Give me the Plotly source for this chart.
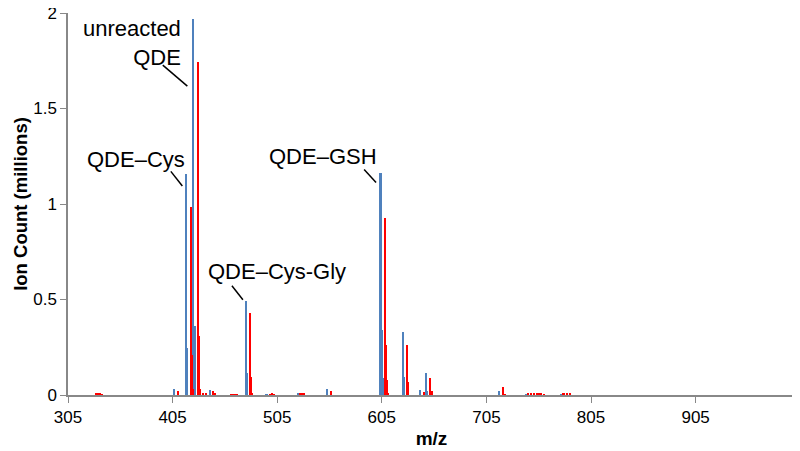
import plotly.graph_objects as go

# Series 1 (blue) : m/z and ion counts (millions)
blue_mz = [332, 406.5, 418.3, 419.3, 423.3, 425.0, 426.3, 440.6, 475.4, 476.4, 495,
           525, 552.6, 604.0, 605.0, 606.0, 625.7, 626.7, 641.6, 647.7, 648.8,
           717.5, 743, 777]
blue_val = [0.004, 0.03, 1.155, 0.245, 0.02, 1.968, 0.36, 0.026, 0.494, 0.115, 0.005,
            0.01, 0.032, 1.16, 0.34, 0.09, 0.332, 0.096, 0.026, 0.114, 0.02,
            0.022, 0.004, 0.004]

# Series 2 (red)
red_mz = [332.5, 334, 336, 338, 410.7, 422.5, 423.5, 424.6, 429.4, 430.6, 431.7, 434,
          437.5, 443.8, 446, 461, 463, 465, 467, 479.2, 480.3, 481.3, 498, 500, 502,
          527, 529, 531, 557, 607.9, 609.0, 610.0, 611.0, 629.5, 630.6, 645.5,
          651.6, 652.7, 721.4, 722.5, 745, 748, 751, 754, 757, 760, 779, 782, 785]
red_val = [0.006, 0.006, 0.006, 0.005, 0.023, 0.985, 0.21, 0.03, 1.741, 0.31, 0.03, 0.01,
           0.012, 0.02, 0.006, 0.005, 0.005, 0.005, 0.005, 0.429, 0.096, 0.01, 0.005, 0.006, 0.005,
           0.008, 0.01, 0.006, 0.021, 0.927, 0.262, 0.08, 0.01, 0.262, 0.07, 0.017,
           0.09, 0.02, 0.04, 0.005, 0.006, 0.006, 0.008, 0.006, 0.006, 0.005, 0.006, 0.007, 0.006]

x_ticks = [305, 405, 505, 605, 705, 805, 905]
y_ticks = [0, 0.5, 1, 1.5, 2]
y_tick_text = ["0", "0.5", "1", "1.5", "2"]

# labels: (text, x, y, xanchor, align)
labels = [
    ("unreacted<br>QDE", 414.7, 1.843, "right", "right"),
    ("QDE\u2013Cys", 418.6, 1.234, "right", "right"),
    ("QDE\u2013GSH", 548.5, 1.249, "center", "center"),
    ("QDE\u2013Cys-Gly", 504.8, 0.646, "center", "center"),
]
# leader lines (x0, y0, x1, y1) in data units
leaders = [
    (395.6, 1.727, 419.1, 1.617),
    (403.3, 1.171, 414.3, 1.094),
    (588.1, 1.181, 599.5, 1.113),
    (461.7, 0.572, 472.2, 0.499),
]

fig = go.Figure()
fig.add_trace(go.Bar(x=blue_mz, y=blue_val, width=1.6, marker=dict(color="#4F81BD", line=dict(width=0)),
                     name="control"))
fig.add_trace(go.Bar(x=red_mz, y=red_val, width=1.6, marker=dict(color="#FF0000", line=dict(width=0)),
                     name="treated"))

for t, x, y, xa, al in labels:
    fig.add_annotation(text=t, x=x, y=y, xanchor=xa, yanchor="middle", align=al,
                       showarrow=False, font=dict(size=22, color="black"))
for x0, y0, x1, y1 in leaders:
    fig.add_shape(type="line", x0=x0, y0=y0, x1=x1, y1=y1, xref="x", yref="y",
                  line=dict(color="black", width=1.5))

fig.update_layout(
    width=800, height=451,
    margin=dict(l=60, r=13, t=5, b=64),
    plot_bgcolor="white", paper_bgcolor="white",
    barmode="overlay", bargap=0, showlegend=False,
    font=dict(family="Liberation Sans, Arial, sans-serif", color="black"),
    xaxis=dict(range=[305, 1000], tickvals=x_ticks, ticks="outside", ticklen=6,
               tickcolor="#888", showline=True, linecolor="#888", linewidth=1.5,
               showgrid=False, zeroline=False, tickfont=dict(size=17), automargin=False,
               ticklabeloverflow="allow",
               title=dict(text="<b>m/z</b>", font=dict(size=19), standoff=6)),
    yaxis=dict(range=[0, 2], tickvals=y_ticks, ticktext=y_tick_text, ticks="outside",
               ticklen=6, tickcolor="#888", showline=True, linecolor="#888", linewidth=1.5,
               showgrid=False, zeroline=False, tickfont=dict(size=17), automargin=False,
               ticklabeloverflow="allow",
               title=dict(text="<b>Ion Count (millions)</b>", font=dict(size=18.5), standoff=1)),
)

fig.write_html("out.html")
